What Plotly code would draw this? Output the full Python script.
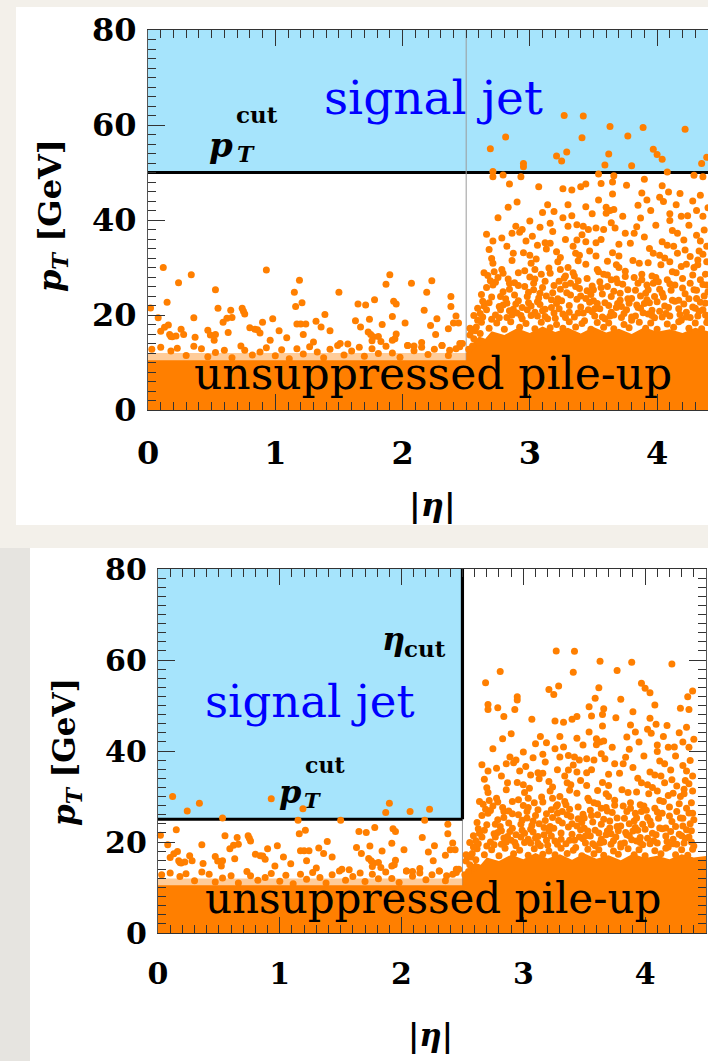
import plotly.graph_objects as go

W, H = 708, 1061

# Cut values (GeV / |eta|)
PT_CUT_LOOSE = 50.0
PT_CUT_TIGHT = 25.0
ETA_CUT = 2.5
PILEUP_PT = 12.0

# Jets in the central region (|eta| < 2.5): (|eta|, pT)
central_jets = [
    (0.12, 30.0), (0.34, 28.5), (0.24, 26.8), (0.93, 29.5), (1.19, 27.3), (0.53, 25.3),
    (1.15, 24.8), (1.50, 24.8), (1.90, 28.5), (1.87, 26.5), (2.07, 26.7), (2.23, 27.2),
    (2.19, 24.8), (0.15, 22.7), (0.02, 21.5), (0.55, 21.4), (0.74, 21.4), (0.75, 20.8),
    (0.76, 20.2), (0.65, 21.0), (1.21, 22.6), (1.16, 21.8), (1.65, 22.3), (1.71, 22.1),
    (1.78, 23.2), (1.93, 22.9), (1.95, 22.3), (2.17, 21.0), (2.38, 23.9), (2.38, 21.8),
    (2.42, 19.8), (0.08, 19.4), (0.36, 19.4), (0.59, 18.5), (0.62, 19.3), (0.66, 19.5),
    (0.90, 18.5), (0.98, 19.2), (1.39, 20.1), (1.32, 18.7), (1.17, 18.1), (1.20, 18.1),
    (1.24, 18.1), (1.63, 18.8), (1.74, 19.1), (1.92, 19.7), (1.84, 18.0), (2.02, 18.3),
    (2.27, 19.2), (2.22, 17.8), (2.40, 18.3), (2.44, 18.3), (0.10, 16.6), (0.13, 17.4),
    (0.16, 17.9), (0.17, 15.9), (0.19, 15.4), (0.22, 15.6), (0.18, 15.5), (0.26, 17.0),
    (0.28, 15.9), (0.37, 15.3), (0.47, 16.8), (0.49, 15.8), (0.52, 14.7), (0.53, 15.9),
    (0.63, 16.3), (0.80, 17.3), (0.84, 17.0), (0.88, 16.2), (0.86, 16.9), (1.03, 16.7),
    (0.96, 14.7), (1.09, 15.2), (1.22, 15.9), (1.36, 17.5), (1.43, 16.7), (1.30, 14.3),
    (1.51, 14.0), (1.57, 13.9), (1.67, 17.5), (1.73, 16.4), (1.75, 15.9), (1.77, 15.4),
    (1.81, 15.5), (1.76, 14.6), (1.83, 14.4), (1.95, 16.0), (1.92, 14.7), (1.94, 15.0),
    (2.04, 13.6), (2.09, 13.5), (2.15, 13.2), (2.26, 15.9), (2.36, 17.1), (2.31, 13.6),
    (2.37, 12.6), (2.45, 14.0), (2.45, 13.3),
]

# Central jets just around the top of the pile-up band
central_band_jets = [
    (0.03, 12.8), (0.10, 13.2), (0.18, 12.4), (0.23, 13.0), (0.30, 11.5), (0.36, 13.4),
    (0.42, 12.9), (0.47, 11.2), (0.53, 12.1), (0.60, 12.6), (0.66, 11.0), (0.73, 13.5),
    (0.76, 12.6), (0.82, 11.6), (0.88, 12.2), (0.93, 13.1), (1.00, 11.4), (1.05, 12.7),
    (1.11, 10.8), (1.17, 12.9), (1.22, 11.8), (1.27, 13.3), (1.33, 12.2), (1.38, 11.0),
    (1.43, 12.8), (1.49, 13.6), (1.54, 11.6), (1.60, 12.4), (1.66, 13.2), (1.70, 11.3),
    (1.76, 12.9), (1.81, 11.9), (1.87, 13.4), (1.92, 12.0), (1.98, 11.1), (2.04, 13.6),
    (2.09, 12.5), (2.15, 14.2), (2.20, 11.7), (2.25, 12.8), (2.31, 13.6), (2.36, 11.5),
    (2.42, 12.9), (2.47, 14.0),
]

# Forward jets (|eta| > 2.5), high pT
forward_jets_high = [
    (3.27, 62.0), (3.42, 61.9), (2.81, 57.5), (2.69, 55.0), (3.63, 59.7), (3.89, 59.5),
    (4.22, 59.1), (3.77, 57.7), (3.41, 57.3), (3.29, 54.3), (3.21, 53.5), (3.25, 52.4),
    (3.62, 53.9), (3.59, 51.6), (3.97, 54.9), (4.00, 53.8), (4.04, 52.8), (3.80, 51.4),
    (2.95, 51.9), (2.95, 51.2), (4.35, 51.9), (4.39, 53.2), (2.71, 50.2), (2.71, 49.1),
    (2.79, 49.5), (2.93, 49.1), (3.54, 49.7), (3.66, 49.3), (3.65, 48.0), (4.08, 50.1),
    (4.29, 49.4), (4.36, 49.1), (2.84, 47.6), (3.07, 47.0), (3.26, 46.6), (3.33, 46.3),
    (3.40, 47.0), (3.44, 47.6), (3.56, 47.7), (3.65, 45.5), (3.76, 47.3), (3.90, 48.6),
    (4.04, 47.2), (4.09, 45.9), (3.88, 45.7), (3.92, 44.2), (4.34, 45.2), (2.83, 42.7),
    (3.14, 43.2), (3.19, 41.8), (3.30, 43.2), (3.44, 42.8), (3.54, 44.2), (3.60, 42.7),
    (3.63, 42.0), (3.66, 42.2), (3.60, 41.4), (3.85, 43.1), (3.95, 42.0), (4.05, 43.9),
    (4.10, 41.3), (4.15, 43.2), (4.19, 40.8), (4.24, 40.9), (4.31, 42.0), (4.36, 40.8),
    (3.26, 40.5), (3.87, 40.4), (4.10, 39.9),
]

# Forward jets, medium pT
forward_jets_mid = [
    (3.16, 39.3), (3.08, 38.5), (3.30, 38.7), (3.37, 39.0), (3.42, 38.7), (3.46, 38.0),
    (3.52, 38.3), (3.58, 38.0), (3.67, 38.3), (3.75, 37.2), (3.82, 37.2), (2.89, 38.7),
    (2.86, 37.2), (2.92, 37.4), (2.94, 38.0), (2.66, 37.0), (3.02, 36.6), (4.16, 37.2),
    (4.31, 36.8), (2.71, 35.6), (3.12, 35.2), (3.16, 35.1), (3.37, 35.8), (3.34, 34.5),
    (3.44, 35.4), (3.52, 35.2), (3.70, 34.9), (4.04, 35.4), (4.34, 35.6), (4.39, 34.5),
    (2.82, 34.5), (2.87, 33.0), (2.95, 33.1), (3.00, 32.6), (3.06, 34.7), (3.21, 33.3),
    (3.24, 32.1), (3.36, 33.0), (3.39, 32.6), (3.52, 32.4), (3.65, 33.1), (3.94, 34.0),
    (3.97, 33.0), (4.02, 32.6), (4.08, 34.7), (4.13, 34.5), (4.22, 33.7), (4.26, 32.3),
    (4.32, 31.6), (4.36, 32.8), (2.70, 31.9), (2.71, 30.9), (2.64, 28.9), (2.72, 29.1),
    (2.79, 28.8), (2.91, 28.9), (3.01, 30.9), (3.04, 29.6), (3.09, 28.6), (3.16, 28.8),
    (3.24, 29.6), (3.30, 30.0), (3.28, 28.2), (3.35, 28.2), (3.44, 30.7), (3.54, 29.1),
    (3.58, 28.6), (3.68, 30.6), (3.70, 30.0), (3.75, 29.2), (3.86, 30.9), (3.88, 28.6),
    (3.96, 28.2), (4.03, 30.6), (4.10, 31.2), (4.12, 29.1), (4.19, 30.2), (4.23, 30.7),
    (4.29, 30.0), (4.32, 30.6), (4.39, 31.2), (4.38, 28.6),
    (2.68, 33.8), (2.75, 40.5), (2.78, 36.2), (2.86, 31.5), (2.90, 43.8), (2.97, 35.6),
    (3.00, 39.8), (3.05, 31.8), (3.10, 41.6), (3.13, 33.9), (3.18, 37.6), (3.22, 31.2),
    (3.28, 35.9), (3.33, 40.9), (3.38, 31.4), (3.41, 36.9), (3.47, 33.5), (3.49, 41.3),
    (3.56, 35.9), (3.61, 31.3), (3.64, 39.4), (3.70, 32.4), (3.73, 40.8), (3.79, 35.1),
    (3.81, 31.5), (3.84, 38.6), (3.90, 36.4), (3.93, 31.0), (3.99, 38.9), (4.02, 44.8),
    (4.06, 32.0), (4.12, 37.8), (4.16, 33.0), (4.18, 45.6), (4.21, 35.8), (4.25, 38.9),
    (4.28, 44.0), (4.33, 33.5), (4.37, 37.9), (4.40, 42.6),
]

# Forward jets, low pT (above the dense pile-up core)
forward_jets_low = [
    (2.69, 27.2), (2.71, 26.3), (2.79, 24.9), (2.84, 26.7), (2.88, 26.8), (2.84, 25.4),
    (3.03, 26.7), (3.03, 25.3), (3.08, 24.6), (3.24, 25.4), (3.28, 26.3), (3.32, 26.7),
    (3.36, 26.0), (3.32, 24.2), (3.40, 24.0), (3.49, 26.1), (3.50, 25.3), (3.64, 27.4),
    (3.64, 23.9), (3.71, 24.6), (3.77, 25.3), (3.85, 26.7), (3.92, 26.3), (3.91, 24.6),
    (3.97, 26.7), (4.02, 25.4), (4.08, 27.4), (4.14, 26.3), (4.20, 27.7), (4.26, 26.7),
    (4.29, 25.3), (4.34, 27.4), (4.39, 26.3), (2.77, 23.9), (2.91, 23.0), (2.98, 23.9),
    (3.17, 23.2), (3.50, 23.0), (2.66, 25.8), (2.75, 27.9), (2.82, 22.5), (2.96, 26.0),
    (3.00, 28.0), (3.06, 22.8), (3.12, 27.1), (3.13, 24.0), (3.19, 26.2), (3.21, 22.4),
    (3.27, 27.8), (3.38, 27.2), (3.45, 25.1), (3.47, 22.7), (3.55, 27.0), (3.57, 24.4),
    (3.61, 26.0), (3.68, 27.6), (3.69, 22.4), (3.73, 26.5), (3.80, 23.5), (3.82, 27.9),
    (3.87, 24.0), (3.94, 22.6), (3.99, 27.9), (4.05, 23.8), (4.11, 25.2), (4.17, 23.1),
    (4.22, 24.5), (4.31, 23.5), (4.37, 24.0),
    (2.79, 22.1), (3.01, 21.9), (4.06, 21.9), (4.28, 21.7), (3.68, 21.6), (3.84, 22.1),
    (3.23, 21.3), (3.55, 21.3), (2.87, 21.2), (2.66, 21.1), (2.77, 21.1), (2.98, 21.1),
    (3.46, 21.1), (3.76, 21.1), (4.36, 21.1), (3.10, 20.9), (4.02, 20.8), (3.64, 20.6),
    (4.23, 20.6), (3.89, 20.5), (2.90, 20.4), (3.19, 20.4), (3.38, 20.4), (3.93, 20.2),
    (3.06, 19.8), (3.51, 19.8), (4.10, 19.8), (4.32, 19.8), (2.63, 19.6), (2.82, 19.5),
    (3.28, 19.5), (3.72, 19.5), (3.98, 19.4), (3.14, 19.2), (2.94, 19.2), (3.59, 19.2),
    (2.70, 19.1), (4.40, 19.1), (3.80, 18.9), (4.19, 18.9), (3.43, 18.8),
    (2.61, 20.3), (2.68, 22.6), (2.73, 20.0), (2.76, 21.8), (2.84, 20.9), (2.89, 22.3),
    (2.93, 19.9), (2.99, 22.6), (3.04, 20.6), (3.08, 22.2), (3.12, 19.7), (3.17, 21.6),
    (3.22, 23.4), (3.26, 20.2), (3.31, 22.0), (3.35, 19.6), (3.40, 21.7), (3.44, 23.5),
    (3.49, 20.7), (3.53, 22.4), (3.57, 19.6), (3.62, 22.0), (3.66, 20.0), (3.71, 23.1),
    (3.74, 20.3), (3.78, 22.5), (3.83, 19.8), (3.87, 21.4), (3.92, 23.2), (3.96, 21.0),
    (4.00, 22.8), (4.04, 19.6), (4.09, 21.6), (4.14, 22.9), (4.18, 20.1), (4.21, 22.3),
    (4.26, 19.5), (4.30, 21.4), (4.34, 22.7), (4.38, 20.0),
    (2.62, 24.3), (2.64, 21.9), (2.67, 28.3), (2.70, 23.8), (2.73, 26.9), (2.76, 19.4),
    (2.78, 29.6), (2.81, 23.4), (2.83, 27.6), (2.86, 20.0), (2.88, 24.2), (2.91, 26.2),
    (2.94, 21.6), (2.96, 29.3), (2.99, 24.8), (3.01, 19.9), (3.04, 27.6), (3.07, 23.6),
    (3.10, 25.8), (3.12, 21.2), (3.15, 29.9), (3.18, 24.7), (3.20, 19.3), (3.23, 27.1),
    (3.25, 23.0), (3.29, 24.7), (3.31, 20.6), (3.34, 28.9), (3.37, 23.3), (3.39, 25.6),
    (3.42, 20.4), (3.45, 27.7), (3.48, 24.3), (3.51, 21.3), (3.53, 29.6), (3.56, 25.8),
    (3.59, 22.6), (3.61, 28.4), (3.63, 19.8), (3.66, 25.0), (3.69, 26.8), (3.72, 21.8),
    (3.75, 28.1), (3.77, 23.4), (3.80, 19.6), (3.83, 25.2), (3.85, 21.6), (3.88, 27.4),
    (3.90, 22.4), (3.93, 25.3), (3.96, 19.9), (3.98, 23.9), (4.01, 27.0), (4.04, 24.6),
    (4.07, 20.3), (4.10, 26.6), (4.12, 23.1), (4.15, 28.9), (4.17, 21.3), (4.20, 25.7),
    (4.23, 19.6), (4.25, 23.4), (4.28, 28.4), (4.31, 25.2), (4.33, 20.8), (4.36, 26.4),
    (4.38, 22.5), (4.40, 24.9),
    (2.58, 17.5), (2.62, 18.5), (2.68, 17.2), (2.74, 18.3), (2.80, 17.0), (2.85, 18.6),
    (2.92, 17.4), (2.97, 18.2), (3.04, 17.1), (3.09, 18.5), (3.16, 17.3), (3.21, 18.0),
    (3.26, 17.2), (3.31, 18.6), (3.36, 17.5), (3.41, 18.2), (3.48, 17.0), (3.53, 18.4),
    (3.58, 17.4), (3.62, 18.3), (3.66, 17.1), (3.74, 18.0), (3.78, 17.3), (3.86, 18.5),
    (3.91, 17.2), (3.95, 18.3), (4.00, 17.0), (4.08, 18.1), (4.13, 17.4), (4.17, 18.6),
    (4.25, 17.2), (4.30, 18.3), (4.35, 17.1), (4.39, 18.4), (2.53, 15.8), (2.55, 13.5),
    (2.57, 16.7), (2.52, 12.8), (2.54, 16.9), (2.56, 15.0), (2.59, 18.9), (2.60, 14.3),
    (2.53, 17.2), (2.56, 19.9), (2.59, 21.4), (2.61, 16.1), (2.63, 22.9),
]

# Upper edge of the saturated pile-up core
core_eta = [0.0, 2.50, 2.50, 2.55, 2.60, 2.65, 2.70, 2.80, 2.90, 3.00, 3.10, 3.20, 3.30,
            3.40, 3.50, 3.60, 3.70, 3.80, 3.90, 4.00, 4.10, 4.20, 4.30, 4.40, 4.50]
core_pt = [10.5, 10.5, 12.0, 14.0, 15.5, 15.0, 16.6, 15.8, 17.2, 16.2, 17.6, 16.4, 17.3,
           16.1, 17.5, 16.3, 17.1, 16.0, 17.4, 16.5, 17.0, 16.2, 17.3, 16.6, 16.9]

ORANGE = "#ff7f00"
BAND = "#ffcc99"
SKY = "#a6e4fc"
SERIF = "DejaVu Serif"

jets = central_jets + central_band_jets + forward_jets_high + forward_jets_mid + forward_jets_low
jet_eta = [p[0] for p in jets]
jet_pt = [p[1] for p in jets]

fig = go.Figure()

for xa, ya in (("x", "y"), ("x2", "y2")):
    fig.add_trace(go.Scatter(
        x=core_eta, y=core_pt, xaxis=xa, yaxis=ya, mode="lines",
        line=dict(width=0, color=ORANGE), fill="tozeroy", fillcolor=ORANGE,
        hoverinfo="skip", showlegend=False))
    fig.add_trace(go.Scatter(
        x=jet_eta, y=jet_pt, xaxis=xa, yaxis=ya, mode="markers",
        marker=dict(size=7, color=ORANGE, line=dict(width=0)),
        cliponaxis=False, showlegend=False))


def px(v):
    return v / W


def py(v):
    return 1 - v / H


tick_font_top = dict(family=SERIF, size=32, color="black", weight="bold")
tick_font_bot = dict(family=SERIF, size=30, color="black", weight="bold")


def xaxis_cfg(domain, rng, font):
    return dict(
        domain=domain, range=rng, showgrid=False, zeroline=False, automargin=False,
        showline=True, linecolor="#333", linewidth=1.3, mirror="allticks",
        ticks="inside", ticklen=16, tickwidth=1.3, tickcolor="#333",
        tickmode="array", tickvals=[0, 1, 2, 3, 4], ticktext=["0", "1", "2", "3", "4"],
        minor=dict(dtick=0.1, ticks="inside", ticklen=8, tickwidth=1, tickcolor="#333"),
        tickfont=font, ticklabelstandoff=14, fixedrange=True)


def yaxis_cfg(domain, font, mirror):
    return dict(
        domain=domain, range=[0, 80], showgrid=False, zeroline=False, automargin=False,
        showline=True, linecolor="#555", linewidth=1.3, mirror=mirror,
        ticks="inside", ticklen=17, tickwidth=1.3, tickcolor="#333",
        tickvals=[0, 20, 40, 60, 80],
        minor=dict(dtick=2, ticks="inside", ticklen=8, tickwidth=1, tickcolor="#333"),
        tickfont=font, ticklabelstandoff=4, fixedrange=True)


xa1 = xaxis_cfg([px(148), 1.0], [0, 4.4], tick_font_top)
xa1["anchor"] = "y"
ya1 = yaxis_cfg([py(410), py(30)], tick_font_top, False)
ya1["anchor"] = "x"
xa2 = xaxis_cfg([px(158), px(706)], [0, 4.5], tick_font_bot)
xa2["anchor"] = "y2"
ya2 = yaxis_cfg([py(933), py(569)], tick_font_bot, "allticks")
ya2["anchor"] = "x2"

shapes = [
    # page background panels
    dict(type="rect", xref="paper", yref="paper", x0=px(16), x1=1.0, y0=py(525), y1=py(7),
         fillcolor="white", line=dict(width=0), layer="below"),
    dict(type="rect", xref="paper", yref="paper", x0=0, x1=px(30), y0=0, y1=py(548),
         fillcolor="#e6e4e0", line=dict(width=0), layer="below"),
    dict(type="rect", xref="paper", yref="paper", x0=px(30), x1=1.0, y0=0, y1=py(548),
         fillcolor="white", line=dict(width=0), layer="below"),
    # top panel: signal region and pile-up band
    dict(type="rect", xref="x domain", yref="y", x0=0, x1=1, y0=PT_CUT_LOOSE, y1=80,
         fillcolor=SKY, line=dict(width=0), layer="below"),
    dict(type="rect", xref="x domain", yref="y", x0=0, x1=1, y0=0, y1=PILEUP_PT,
         fillcolor=BAND, line=dict(width=0), layer="below"),
    dict(type="line", xref="x", yref="y", x0=ETA_CUT, x1=ETA_CUT, y0=0, y1=80,
         line=dict(color="#9a9a9a", width=1), layer="below"),
    dict(type="line", xref="x domain", yref="y", x0=0, x1=1, y0=PT_CUT_LOOSE, y1=PT_CUT_LOOSE,
         line=dict(color="black", width=3.2), layer="below"),
    # bottom panel
    dict(type="rect", xref="x2", yref="y2", x0=0, x1=ETA_CUT, y0=PT_CUT_TIGHT, y1=80,
         fillcolor=SKY, line=dict(width=0), layer="below"),
    dict(type="rect", xref="x2 domain", yref="y2", x0=0, x1=1, y0=0, y1=PILEUP_PT,
         fillcolor=BAND, line=dict(width=0), layer="below"),
    dict(type="line", xref="x2", yref="y2", x0=ETA_CUT, x1=ETA_CUT, y0=0, y1=PT_CUT_TIGHT,
         line=dict(color="#9a9a9a", width=1), layer="below"),
    dict(type="line", xref="x2", yref="y2", x0=0, x1=ETA_CUT, y0=PT_CUT_TIGHT, y1=PT_CUT_TIGHT,
         line=dict(color="black", width=3.2), layer="below"),
    dict(type="line", xref="x2", yref="y2", x0=ETA_CUT, x1=ETA_CUT, y0=PT_CUT_TIGHT, y1=80,
         line=dict(color="black", width=3.2), layer="below"),
]


def label(text, x, y, size, xref, yref, color="black", angle=0, xanchor="center"):
    return dict(text=text, x=x, y=y, xref=xref, yref=yref, showarrow=False,
                font=dict(family=SERIF, size=size, color=color), textangle=angle,
                xanchor=xanchor, yanchor="middle")


annotations = [
    # top panel
    label("signal jet", 2.24, 65.7, 47, "x", "y", color="#0000ff"),
    label("unsuppressed pile-up", 2.24, 7.6, 44, "x", "y"),
    label("<b><i>p</i></b>", 0.57, 55.8, 34, "x", "y"),
    label("<b><i>T</i></b>", 0.77, 53.8, 22, "x", "y"),
    label("<b>cut</b>", 0.86, 62.2, 23, "x", "y"),
    label("<b><i>p</i><sub><i>T</i></sub> [GeV]</b>", px(52), py(216), 32, "paper", "paper", angle=-90),
    label("<b>|<i>η</i>|</b>", px(432), py(505), 32, "paper", "paper"),
    # bottom panel
    label("signal jet", 1.24, 50.8, 45, "x2", "y2", color="#0000ff"),
    label("unsuppressed pile-up", 2.26, 7.6, 42, "x2", "y2"),
    label("<b><i>p</i></b>", 1.08, 31.0, 32, "x2", "y2"),
    label("<b><i>T</i></b>", 1.27, 29.2, 21, "x2", "y2"),
    label("<b>cut</b>", 1.37, 37.0, 22, "x2", "y2"),
    label("<b><i>η</i></b>", 1.93, 64.6, 32, "x2", "y2"),
    label("<b>cut</b>", 2.19, 62.6, 23, "x2", "y2"),
    label("<b><i>p</i><sub><i>T</i></sub> [GeV]</b>", px(66), py(752), 31, "paper", "paper", angle=-90),
    label("<b>|<i>η</i>|</b>", px(430), py(1035), 31, "paper", "paper"),
]

fig.update_layout(
    width=W, height=H, margin=dict(l=0, r=0, t=0, b=0),
    paper_bgcolor="#f3f0ea", plot_bgcolor="rgba(0,0,0,0)",
    xaxis=xa1, yaxis=ya1, xaxis2=xa2, yaxis2=ya2,
    shapes=shapes, annotations=annotations, showlegend=False,
)

fig.write_html("out.html", config=dict(displayModeBar=False))
